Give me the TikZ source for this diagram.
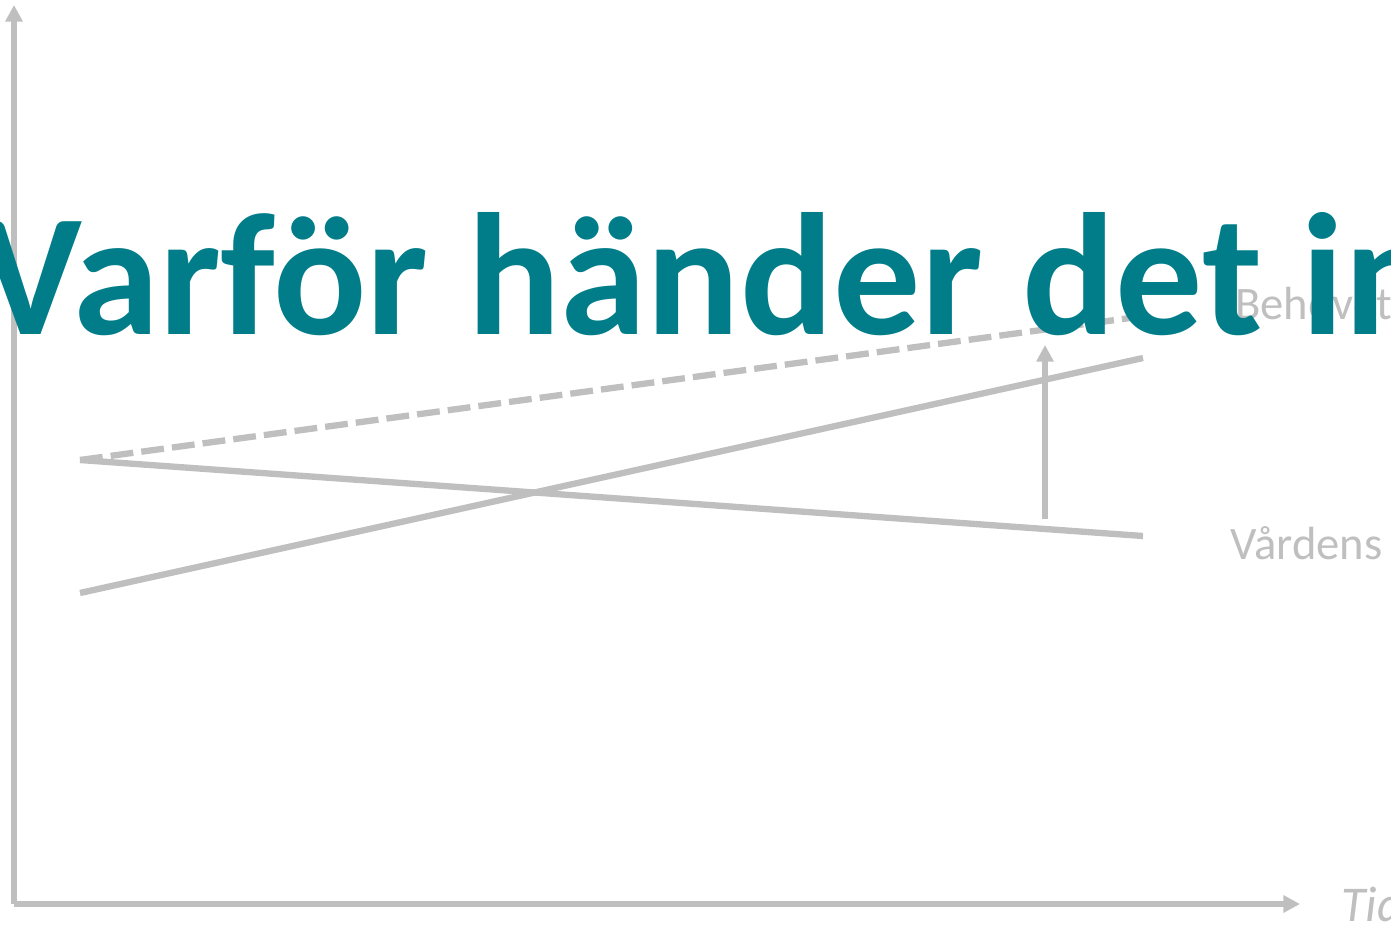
\documentclass[tikz,border=0pt]{standalone}
\usepackage{fontspec}
\setmainfont{Carlito}
\usetikzlibrary{arrows.meta}
\definecolor{axisgray}{RGB}{191,191,191}
\definecolor{titleteal}{RGB}{0,125,137}
\begin{document}
\begin{tikzpicture}[x=0.02cm,y=-0.02cm,line cap=butt,line join=miter,
  graph/.style={draw=axisgray,line width=3.6pt},
  tip/.style={-{Triangle[length=9.5pt,width=9.5pt]}},
  lbl/.style={text=axisgray,inner sep=0pt,anchor=base west,font=\fontsize{26.5}{32}\selectfont}]
  \useasboundingbox (0,0) rectangle (1391,925);
  \clip (0,0) rectangle (1391,925);
  \coordinate (O) at (14,904);
  \coordinate (Ytop) at (14,5);
  \coordinate (Xend) at (1300,904);
  \coordinate (S) at (80,460);
  \coordinate (R0) at (80,593);
  \coordinate (R1) at (1143,358);
  \coordinate (F1) at (1143,536);
  \coordinate (D1) at (1145,316);
  \coordinate (G0) at (1045,519);
  \coordinate (G1) at (1045,345);
  \draw[graph,tip] (O) -- (Ytop);
  \draw[graph,tip] (O) -- (Xend);
  \draw[graph,dash pattern=on 13pt off 4.6pt] (S) -- (D1);
  \draw[graph] (S) -- (F1);
  \draw[graph] (R0) -- (R1);
  \draw[graph,tip] (G0) -- (G1);
  \node[lbl] (behov) at (1235,320) {Behovet};
  \node[lbl] (vard) at (1230,559) {Vårdens};
  \node[lbl,font=\fontsize{28.5}{34}\selectfont\itshape] (tid) at (1341,921) {Tid};
  \node[inner sep=0pt,anchor=base west,text=titleteal,font=\fontsize{99}{112}\selectfont\bfseries] (rubrik) at (-20.5,335) {Varför händer det inte};
\end{tikzpicture}
\end{document}
